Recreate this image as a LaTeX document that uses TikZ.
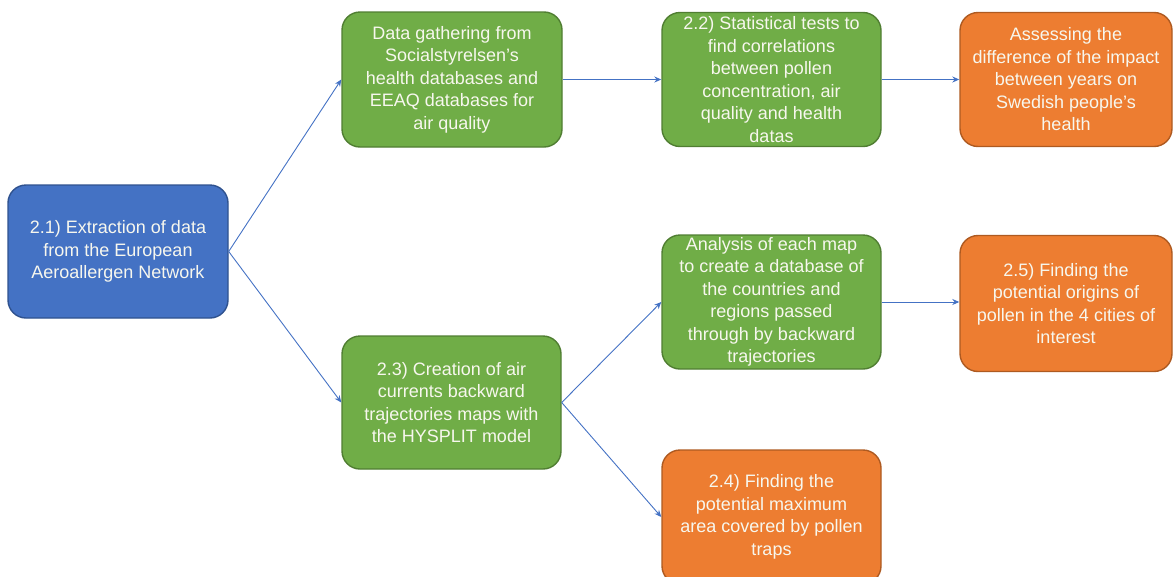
\documentclass[tikz,border=0pt]{standalone}
\usepackage{fontspec}
\setmainfont{Liberation Sans}
\usetikzlibrary{arrows.meta}
\definecolor{bfill}{HTML}{4472C4}
\definecolor{bline}{HTML}{2F528F}
\definecolor{gfill}{HTML}{70AD47}
\definecolor{gline}{HTML}{507E32}
\definecolor{ofill}{HTML}{ED7D31}
\definecolor{oline}{HTML}{AE5A21}
\definecolor{txt}{HTML}{F7F7EE}
\definecolor{arr}{HTML}{4472C4}
\tikzset{
  box/.style={rounded corners=18pt, line width=1.4pt, inner sep=0pt, align=center,
    text=txt, font=\fontsize{18}{22.5}\selectfont, minimum width=219pt, minimum height=134pt},
  bluebox/.style={box, fill=bfill, draw=bline},
  greenbox/.style={box, fill=gfill, draw=gline},
  orangebox/.style={box, fill=ofill, draw=oline},
  conn/.style={draw=arr, line width=0.9pt, -{Stealth[length=7pt,width=6pt]}}
}
\begin{document}
\begin{tikzpicture}[x=1pt,y=-1pt]
\useasboundingbox (0,0) rectangle (1173,576);
\clip (0,0) rectangle (1173,576);
\node[bluebox, minimum width=220pt, minimum height=133pt] (b) at (118,251.5)
  {2.1) Extraction of data\\from the European\\Aeroallergen Network};
\node[greenbox, minimum width=220pt, minimum height=135pt] (g1) at (452,79.5)
  {Data gathering from\\Socialstyrelsen’s\\health databases and\\EEAQ databases for\\air quality};
\node[greenbox] (g2) at (771.5,79.5)
  {2.2) Statistical tests to\\find correlations\\between pollen\\concentration, air\\quality and health\\datas};
\node[orangebox, minimum width=212pt] (o1) at (1066,79.5)
  {Assessing the\\difference of the impact\\between years on\\Swedish people’s\\health};
\node[greenbox] (g3) at (771.5,302)
  {Analysis of each map\\to create a database of\\the countries and\\regions passed\\through by backward\\trajectories};
\node[orangebox, minimum width=212pt, minimum height=136pt] (o2) at (1066,303.5)
  {2.5) Finding the\\potential origins of\\pollen in the 4 cities of\\interest};
\node[greenbox, minimum height=133pt] (g4) at (451.5,402.5)
  {2.3) Creation of air\\currents backward\\trajectories maps with\\the HYSPLIT model};
\node[orangebox] (o3) at (771.5,517)
  {2.4) Finding the\\potential maximum\\area covered by pollen\\traps};
\draw[conn] (b.east) -- (g1.west);
\draw[conn] (b.east) -- (g4.west);
\draw[conn] (g1.east) -- (g2.west);
\draw[conn] (g2.east) -- (o1.west);
\draw[conn] (g4.east) -- (g3.west);
\draw[conn] (g4.east) -- (o3.west);
\draw[conn] (g3.east) -- (o2.west |- g3.east);
\end{tikzpicture}
\end{document}
